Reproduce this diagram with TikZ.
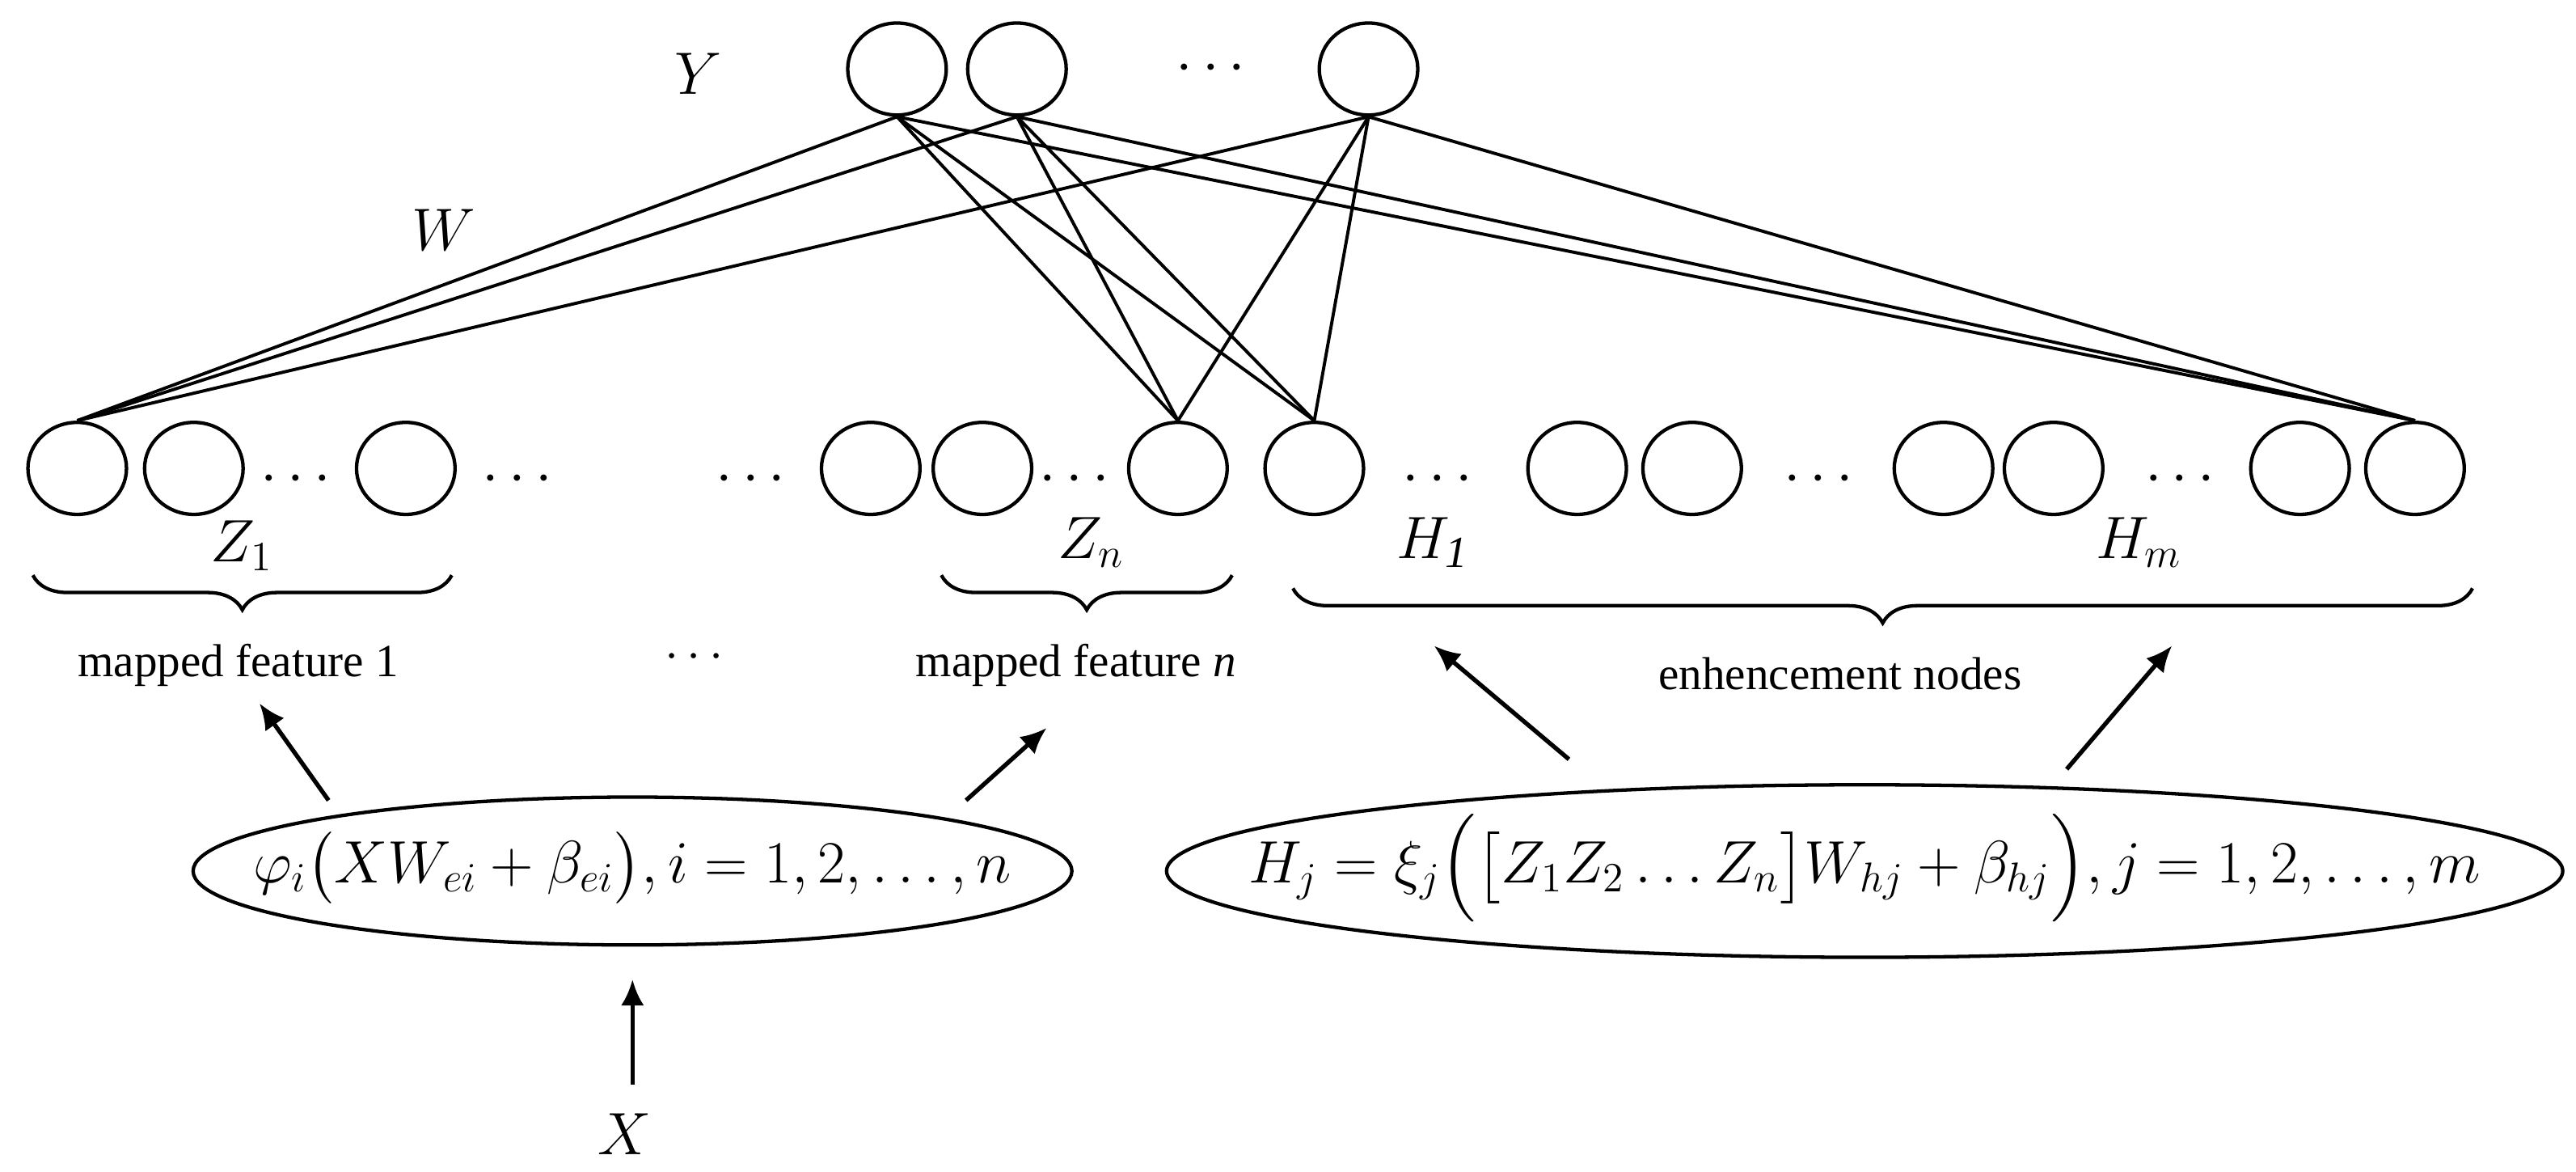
\documentclass[tikz,border=0pt]{standalone}
\usepackage{amsmath}
\usepackage{fontspec}
\setmainfont{Liberation Serif}
\usetikzlibrary{decorations.pathreplacing,arrows.meta,shapes.geometric}
\begin{document}
\begin{tikzpicture}[x=0.02cm,y=-0.02cm,
  nd/.style={draw,line width=1.2pt,ellipse,minimum width=1.2cm,minimum height=1.12cm,inner sep=0},
  ln/.style={line width=1.1pt},
  ar/.style={line width=1.5pt,-{Latex[length=9pt,width=8pt]}},
  br/.style={decorate,decoration={brace,mirror,amplitude=12pt},line width=1.2pt},
  lab/.style={font=\fontsize{16}{18}\selectfont},
  big/.style={font=\fontsize{22}{26}\selectfont}]
\useasboundingbox (0,0) rectangle (1568,713);
% top
\node[nd] (y1) at (546,42) {};
\node[nd] (y2) at (619,42) {};
\node[nd] (y3) at (833,42) {};
\node[big] at (740,42) {$\cdots$};
\node[big] at (425,45) {$Y$};
\node[big] at (270,140) {$W$};
% bottom
\foreach \n/\x in {a/47,b/118,c/247,d/530,e/598,f/717,g/800,h/960,i/1030,j/1183,k/1250,l/1400,m/1470}
  \node[nd] (\n) at (\x,285) {};
\foreach \x in {183,318,460,657,878,1110,1330}
  \node[big] at (\x,292) {$\cdots$};
\foreach \t in {y1,y2,y3}
  \foreach \b in {a,f,g,m}
    \draw[ln] (\t.south) -- (\b.north);
% braces
\draw[br] (20,350) -- (275,350);
\draw[br] (573,350) -- (750,350);
\draw[br] (787,358) -- (1505,358);
\node[big] at (147,332) {$Z_1$};
\node[big] at (664,330) {$Z_n$};
\node[big] at (872,330) {$H_{\mathit{1}}$};
\node[big] at (1302,330) {$H_m$};
\node[lab] at (145,405) {mapped feature 1};
\node[lab] at (425,400) {$\cdots$};
\node[lab] at (655,405) {mapped feature \textit{n}};
\node[lab] at (1120,410) {enhencement nodes};
% ellipses
\node[draw,ellipse,line width=1.2pt,minimum width=10.7cm,minimum height=1.8cm,inner sep=0] (e1) at (385,530) {};
\node[big] at (385,528) {$\varphi_i\bigl(XW_{ei}+\beta_{ei}\bigr),i=1,2,\ldots,n$};
\node[draw,ellipse,line width=1.2pt,minimum width=17cm,minimum height=2.1cm,inner sep=0] (e2) at (1135,530) {};
\node[big] at (1135,528) {$H_j=\xi_j\Bigl(\bigl[Z_1Z_2\ldots Z_n\bigr]W_{hj}+\beta_{hj}\Bigr),j=1,2,\ldots,m$};
% arrows
\coordinate (p1) at (200,487); \coordinate (q1) at (158,428);
\coordinate (p2) at (588,487); \coordinate (q2) at (637,443);
\coordinate (p3) at (955,462); \coordinate (q3) at (873,393);
\coordinate (p4) at (1258,468); \coordinate (q4) at (1322,393);
\coordinate (p5) at (385,660); \coordinate (q5) at (385,596);
\draw[ar] (p1) -- (q1);
\draw[ar] (p2) -- (q2);
\draw[ar] (p3) -- (q3);
\draw[ar] (p4) -- (q4);
\draw[ar] (p5) -- (q5);
\node[big] (X) at (380,690) {$X$};
\end{tikzpicture}
\end{document}
